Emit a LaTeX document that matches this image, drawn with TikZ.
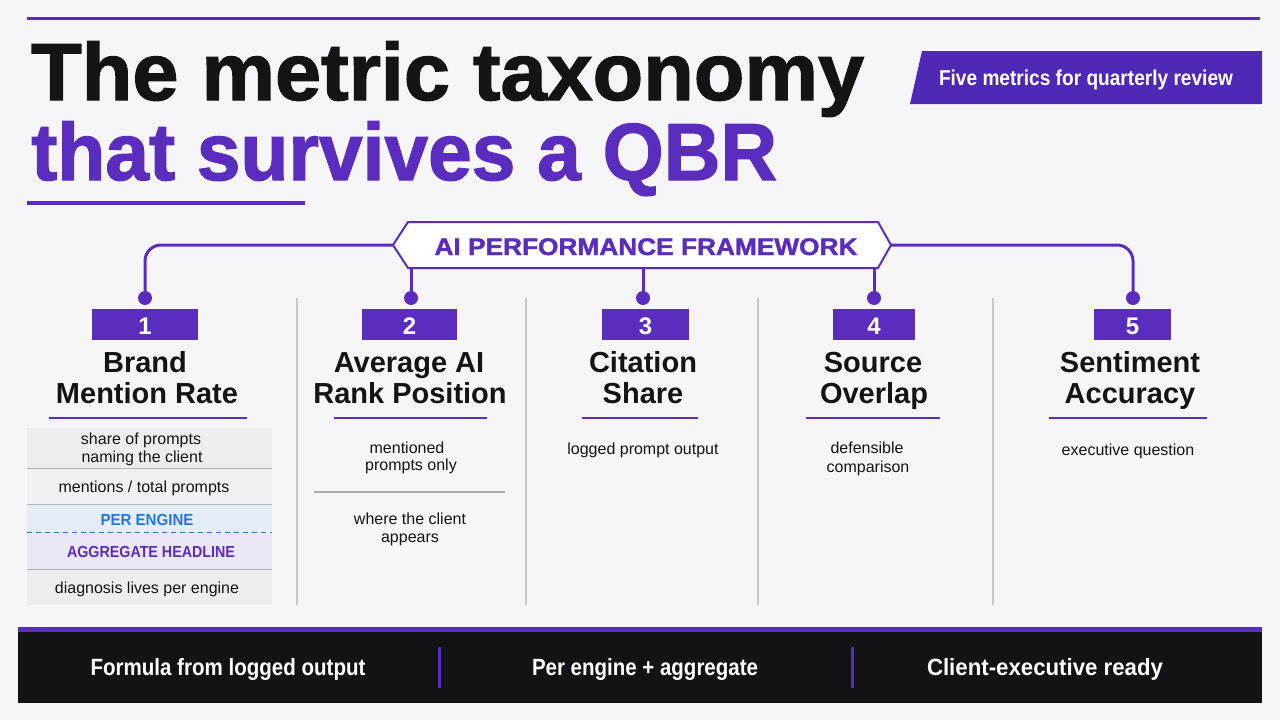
\documentclass[tikz,border=0pt]{standalone}
\usepackage{fontspec}
\setmainfont{Liberation Sans}
\newfontfamily\titlefont{Liberation Sans}[BoldFeatures={FakeBold=1.6}]
\usetikzlibrary{calc}
\definecolor{bg}{HTML}{F6F6F8}
\definecolor{purp}{HTML}{5A2DBE}
\definecolor{badge}{HTML}{5028B6}
\definecolor{ink}{HTML}{141414}
\definecolor{sepgray}{HTML}{C8C8CC}
\definecolor{rowbg}{HTML}{EDEDF0}
\definecolor{rowline}{HTML}{B4B4B8}
\definecolor{engbg}{HTML}{E4ECF8}
\definecolor{engtxt}{HTML}{1F78E0}
\definecolor{aggbg}{HTML}{EBE6F6}
\definecolor{footbg}{HTML}{121317}
\newsavebox\fitbox
\newcommand\fitw[2]{\sbox\fitbox{#2}\pgfmathsetmacro\fitfac{#1/\the\wd\fitbox}\scalebox{\fitfac}[1]{\usebox\fitbox}}
\tikzset{
  conn/.style={draw=purp, line width=3pt},
  dotn/.style={circle, fill=purp, minimum size=14pt, inner sep=0},
  numbox/.style={fill=purp, minimum height=31pt, inner sep=0},
  numtxt/.style={text=white, font=\bfseries\fontsize{24}{24}\selectfont, anchor=base, inner sep=0},
  ttl/.style={font=\bfseries\fontsize{29}{31}\selectfont, text=ink, anchor=base, inner sep=0},
  bodyt/.style={font=\fontsize{16}{18}\selectfont, text=ink, anchor=base, inner sep=0},
  uline/.style={draw=purp, line width=2.5pt},
  colsep/.style={draw=sepgray, line width=1.2pt},
  rowbox/.style={minimum width=245pt, inner sep=0, draw=none},
  rowsep/.style={draw=rowline, line width=1pt},
  foottxt/.style={text=white, font=\bfseries\fontsize{23.5}{24}\selectfont, anchor=base, inner sep=0},
}
\begin{document}
\begin{tikzpicture}[x=1pt,y=-1pt]
\useasboundingbox (0,0) rectangle (1280,720);
\fill[bg] (0,0) rectangle (1280,720);

% top rule and title
\draw[purp, line width=3pt] (27,18) -- (1260,18);
\node[anchor=base west, inner sep=0, text=ink, font=\titlefont\bfseries\fontsize{81}{81}\selectfont] (t1) at (31,100) {\fitw{833}{The metric taxonomy}};
\node[anchor=base west, inner sep=0, text=purp, font=\titlefont\bfseries\fontsize{81}{81}\selectfont] (t2) at (31,180) {\fitw{746}{that survives a QBR}};
\draw[purp, line width=3.5pt] (27,203) -- (305,203);

% badge
\fill[badge] (922,51) -- (1262,51) -- (1262,104) -- (910,104) -- cycle;
\node[anchor=base, inner sep=0, text=white, font=\bfseries\fontsize{21.5}{22}\selectfont] (badge) at (1086,85) {\fitw{294}{Five metrics for quarterly review}};

% connectors
\coordinate (bL) at (393,245);
\coordinate (bR) at (891,245);
\coordinate (p1) at (145,298);
\coordinate (p2) at (411,298);
\coordinate (p3) at (643,298);
\coordinate (p4) at (874,298);
\coordinate (p5) at (1133,298);
\draw[conn, rounded corners=16pt] (bL) -| (p1);
\draw[conn, rounded corners=16pt] (bR) -| (p5);
\draw[conn] (p2 |- bL) -- (p2);
\draw[conn] (p3 |- bL) -- (p3);
\draw[conn] (p4 |- bL) -- (p4);

% banner
\filldraw[fill=white, draw=purp, line width=2pt] (408,222) -- (878,222) -- (891,245) -- (878,268) -- (408,268) -- (393,245) -- cycle;
\node[inner sep=0, text=purp, font=\titlefont\bfseries\fontsize{24}{24}\selectfont, anchor=base] (ban) at (646,255) {\fitw{423}{AI PERFORMANCE FRAMEWORK}};

% dots
\foreach \i in {1,...,5} \node[dotn] (d\i) at (p\i) {};

% column separators
\foreach \x in {297,526,758,993} \draw[colsep] (\x,298) -- (\x,605);

% number boxes
\node[numbox, minimum width=106pt] (b1) at (145,324.5) {};
\node[numbox, minimum width=95pt] (b2) at (409.5,324.5) {};
\node[numbox, minimum width=87pt] (b3) at (645.5,324.5) {};
\node[numbox, minimum width=82pt] (b4) at (874,324.5) {};
\node[numbox, minimum width=77pt] (b5) at (1132.5,324.5) {};
\node[numtxt] (n1) at (145,334) {1};
\node[numtxt] (n2) at (409.5,334) {2};
\node[numtxt] (n3) at (645.5,334) {3};
\node[numtxt] (n4) at (874,334) {4};
\node[numtxt] (n5) at (1132.5,334) {5};

% titles
\node[ttl] (c1a) at (145,372) {Brand};
\node[ttl] (c1b) at (147,403) {Mention Rate};
\node[ttl] (c2a) at (409,372) {Average AI};
\node[ttl] (c2b) at (410,403) {Rank Position};
\node[ttl] (c3a) at (643,372) {Citation};
\node[ttl] (c3b) at (643,403) {Share};
\node[ttl] (c4a) at (873,372) {Source};
\node[ttl] (c4b) at (874,403) {Overlap};
\node[ttl] (c5a) at (1130,372) {Sentiment};
\node[ttl] (c5b) at (1130,403) {Accuracy};

% underlines
\draw[uline] (49,418) -- (247,418);
\draw[uline] (334,418) -- (487,418);
\draw[uline] (582,418) -- (698,418);
\draw[uline] (806,418) -- (940,418);
\draw[uline] (1049,418) -- (1207,418);

% column 1 table
\node[rowbox, fill=rowbg, minimum height=40pt] (r1) at (149.5,448) {};
\node[rowbox, fill=rowbg!60!bg, minimum height=35pt] (r2) at (149.5,486.5) {};
\node[rowbox, fill=engbg, minimum height=27pt] (r3) at (149.5,518.5) {};
\node[rowbox, fill=aggbg, minimum height=37pt] (r4) at (149.5,551) {};
\node[rowbox, fill=rowbg, minimum height=35pt] (r5) at (149.5,587.5) {};
\draw[rowsep] (r1.south west) -- (r1.south east);
\draw[rowsep] (r2.south west) -- (r2.south east);
\draw[engtxt, line width=1.3pt, dash pattern=on 5pt off 4pt] (r3.south west) -- (r3.south east);
\draw[rowsep] (r4.south west) -- (r4.south east);
\node[bodyt] (x1a) at (141,444) {share of prompts};
\node[bodyt] (x1b) at (142,462) {naming the client};
\node[bodyt] (x2) at (144,492) {mentions / total prompts};
\node[bodyt, text=engtxt, font=\bfseries\fontsize{16}{18}\selectfont] (x3) at (147,525) {\fitw{93}{PER ENGINE}};
\node[bodyt, text=purp, font=\bfseries\fontsize{16}{18}\selectfont] (x4) at (151,557) {\fitw{168}{AGGREGATE HEADLINE}};
\node[bodyt] (x5) at (147,593) {diagnosis lives per engine};

% column 2
\node[bodyt] (y1a) at (407,453) {mentioned};
\node[bodyt] (y1b) at (411,470) {prompts only};
\draw[sepgray!85!black, line width=1.2pt] (314,492) -- (505,492);
\node[bodyt] (y2a) at (410,524) {where the client};
\node[bodyt] (y2b) at (410,542) {appears};

% columns 3-5
\node[bodyt] (z3) at (643,454) {logged prompt output};
\node[bodyt] (z4a) at (867,453) {defensible};
\node[bodyt] (z4b) at (868,472) {comparison};
\node[bodyt] (z5) at (1128,455) {executive question};

% footer
\fill[footbg] (18,631) rectangle (1262,703);
\fill[purp] (18,627) rectangle (1262,632);
\draw[purp, line width=3pt] (439,647) -- (439,688);
\draw[purp, line width=3pt] (852,647) -- (852,688);
\node[foottxt] (f1) at (228,675) {\fitw{275}{Formula from logged output}};
\node[foottxt] (f2) at (645,675) {\fitw{226}{Per engine + aggregate}};
\node[foottxt] (f3) at (1045,675) {\fitw{236}{Client-executive ready}};
\end{tikzpicture}
\end{document}
